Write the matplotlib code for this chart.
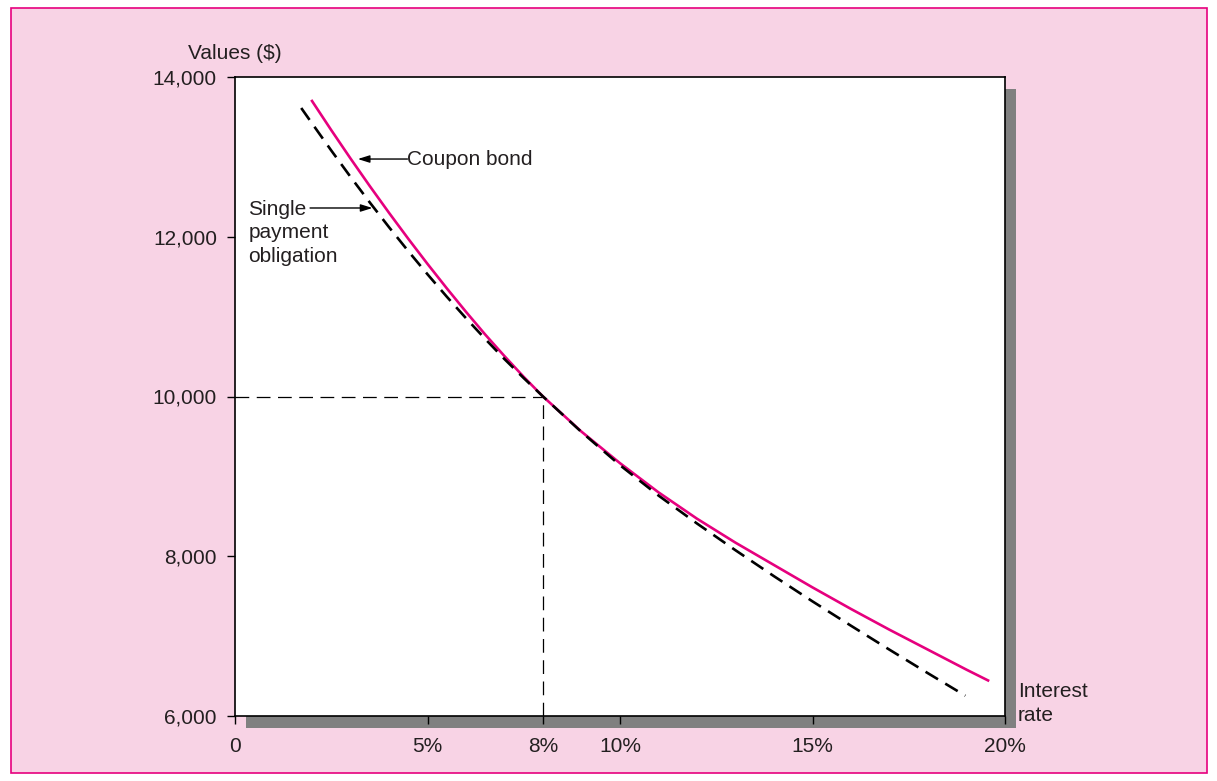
import numpy as np
import matplotlib.pyplot as plt
from matplotlib.patches import Rectangle

# interest rate (%) and value ($)
coupon_rate = [2.0, 2.5, 3.0, 3.5, 4.0, 4.5, 5.0, 5.5, 6.0, 6.5, 7.0, 7.5, 8.0,
               9.0, 10.0, 11.0, 12.0, 13.0, 14.0, 15.0, 16.0, 17.0, 18.0, 19.0, 19.56]
coupon_value = [13700, 13335, 12980, 12635, 12300, 11975, 11660, 11355, 11060, 10775, 10505, 10245, 10000,
                9560, 9165, 8800, 8470, 8170, 7890, 7610, 7340, 7080, 6830, 6580, 6445]

single_rate = [1.72, 2.0, 2.5, 3.0, 3.5, 4.0, 4.5, 5.0, 5.5, 6.0, 6.5, 7.0, 7.5, 8.0,
               9.0, 10.0, 11.0, 12.0, 13.0, 14.0, 15.0, 16.0, 17.0, 18.0, 18.97]
single_value = [13612, 13420, 13080, 12750, 12430, 12120, 11820, 11530, 11250, 10980, 10720, 10468, 10230, 10000,
                9555, 9140, 8760, 8410, 8075, 7750, 7435, 7130, 6830, 6535, 6254]

x_ticks = [0, 5, 8, 10, 15, 20]
x_labels = ['0', '5%', '8%', '10%', '15%', '20%']
y_ticks = [6000, 8000, 10000, 12000, 14000]
y_labels = ['6,000', '8,000', '10,000', '12,000', '14,000']

par_rate = 8
par_value = 10000

magenta = '#E6007E'
pink = '#F8D3E5'
ink = '#231F20'
plt.rcParams['font.family'] = ['Liberation Sans', 'DejaVu Sans']

W, H = 1217, 781
fig = plt.figure(figsize=(W / 100, H / 100), dpi=100)
fig.patch.set_facecolor('white')

# pink panel with magenta border
fig.patches.append(Rectangle((11 / W, 1 - 773 / H), 1196 / W, 765 / H, transform=fig.transFigure,
                             facecolor=pink, edgecolor=magenta, lw=1.2, zorder=-2))

left, right, top, bottom = 235, 1005, 77, 716
ax_rect = [left / W, 1 - bottom / H, (right - left) / W, (bottom - top) / H]

# drop shadow behind the plot box
fig.patches.append(Rectangle((ax_rect[0] + 11 / W, ax_rect[1] - 12 / H), ax_rect[2], ax_rect[3],
                             transform=fig.transFigure, facecolor='#808080', edgecolor='none', zorder=-1))

ax = fig.add_axes(ax_rect)
ax.set_facecolor('white')
ax.set_xlim(0, 20)
ax.set_ylim(6000, 14000)

ax.plot(coupon_rate, coupon_value, color=magenta, lw=1.9, zorder=3)
ax.plot(single_rate, single_value, color='black', lw=1.9, dashes=(5.5, 3.2), zorder=4)

ax.plot([0, par_rate], [par_value, par_value], color='black', lw=0.9, dashes=(11, 6))
ax.plot([par_rate, par_rate], [6000, par_value], color='black', lw=0.9, dashes=(11, 6))

for s in ax.spines.values():
    s.set_linewidth(1.2)
    s.set_color('black')

ax.set_xticks(x_ticks)
ax.set_xticklabels(x_labels)
ax.set_yticks(y_ticks)
ax.set_yticklabels(y_labels)
ax.tick_params(axis='y', direction='out', length=6, width=1, pad=7, labelsize=15, labelcolor=ink)
ax.tick_params(axis='x', direction='out', length=6, width=1, pad=9, labelsize=15, labelcolor=ink)

ax.text(0, 14300, 'Values ($)', ha='center', va='center', fontsize=15, color=ink)
ax.text(20.34, 6160, 'Interest\nrate', ha='left', va='center', fontsize=15, color=ink,
        linespacing=1.36, clip_on=False)

arrow = dict(arrowstyle='-|>,head_length=0.7,head_width=0.22', color='black', lw=1,
             shrinkA=0, shrinkB=0)
ax.annotate('', xy=(3.19, 12973), xytext=(4.48, 12973), arrowprops=arrow)
ax.text(4.48, 12973, 'Coupon bond', va='center', ha='left', fontsize=15, color=ink)

ax.annotate('', xy=(3.57, 12360), xytext=(1.95, 12360), arrowprops=arrow)
ax.text(0.35, 12462, 'Single\npayment\nobligation', va='top', ha='left', fontsize=15,
        color=ink, linespacing=1.31)

fig.savefig('out.png', dpi=100, facecolor=fig.get_facecolor())
